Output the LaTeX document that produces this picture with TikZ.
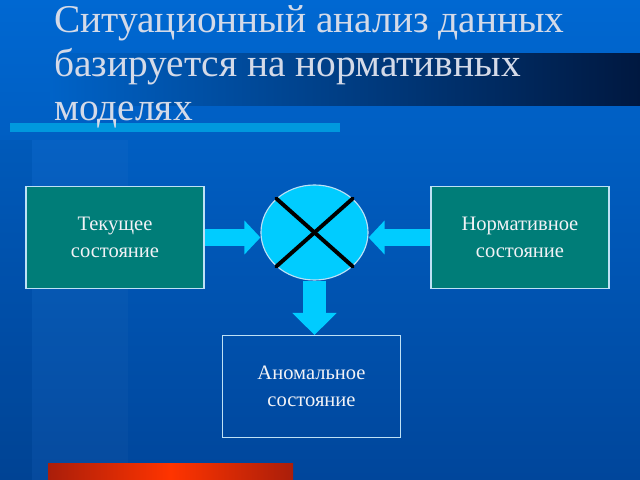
\documentclass[tikz,border=0pt]{standalone}
\usepackage{fontspec}
\setmainfont{Liberation Serif}
\usetikzlibrary{shapes.geometric, arrows.meta}
\definecolor{bgtop}{RGB}{0,104,210}
\definecolor{bgbot}{RGB}{0,70,155}
\definecolor{navy}{RGB}{0,24,64}
\definecolor{rule}{RGB}{0,152,222}
\definecolor{teal}{RGB}{0,125,120}
\definecolor{cyanfill}{RGB}{0,204,255}
\definecolor{edge}{RGB}{190,225,245}
\definecolor{titletext}{RGB}{212,218,232}
\definecolor{boxtext}{RGB}{242,242,246}
\definecolor{redmid}{RGB}{255,52,0}
\definecolor{redside}{RGB}{170,30,10}

\begin{document}
\begin{tikzpicture}[x=0.025cm, y=-0.025cm, title/.style={anchor=north west, inner sep=0pt, align=left, text=titletext, font=\fontsize{28}{31.4}\selectfont}, box/.style={rectangle, draw=edge, line width=1pt, minimum width=4.45cm, minimum height=2.54cm, align=center, text=boxtext, font=\fontsize{14.6}{18.8}\selectfont}, state/.style={box, fill=teal}, mixer/.style={ellipse, draw=edge, fill=cyanfill, line width=0.8pt, minimum width=2.675cm, minimum height=2.375cm, inner sep=0pt}, h/.style={draw=cyanfill, line width=0.425cm, -{Triangle[width=0.825cm, length=0.4cm]}}, v/.style={draw=cyanfill, line width=0.55cm, -{Triangle[width=1.075cm, length=0.55cm]}}, cross/.style={line width=2.8pt, line cap=round}]
            % background
            \shade[top color=bgtop, bottom color=bgbot] (0,0) rectangle (640,480);
            \fill[black, opacity=0.04] (0,140) rectangle (32,480);
            \fill[white, opacity=0.025] (32,140) rectangle (128,480);
            \shade[left color=bgtop!95!black, right color=navy] (50,53) rectangle (640,105);
            \fill[rule] (10,123) rectangle (340,132);
            \shade[left color=redside, right color=redside, middle color=redmid] (48,463) rectangle (293,480);
            % nodes
            \node[title] (head) at (54,5) {Ситуационный анализ данных\\базируется на нормативных\\моделях};
            \node[state] (cur) at (115,237.5) {Текущее\\состояние};
            \node[state] (norm) at (520,237.5) {Нормативное\\состояние};
            \node[mixer] (mix) at (314.5,232.5) {};
            \node[box] (anom) at (311.5,386.5) {Аномальное\\состояние};
            \draw[cross] (mix.north west) -- (mix.south east);
            \draw[cross] (mix.north east) -- (mix.south west);
            % edges
            \draw[h] (cur.east) -- (cur.east -| mix.west);
            \draw[h] (norm.west) -- (norm.west -| mix.east);
            \draw[v] (mix.south) -- (mix.south |- anom.north);
        \end{tikzpicture}
\end{document}
